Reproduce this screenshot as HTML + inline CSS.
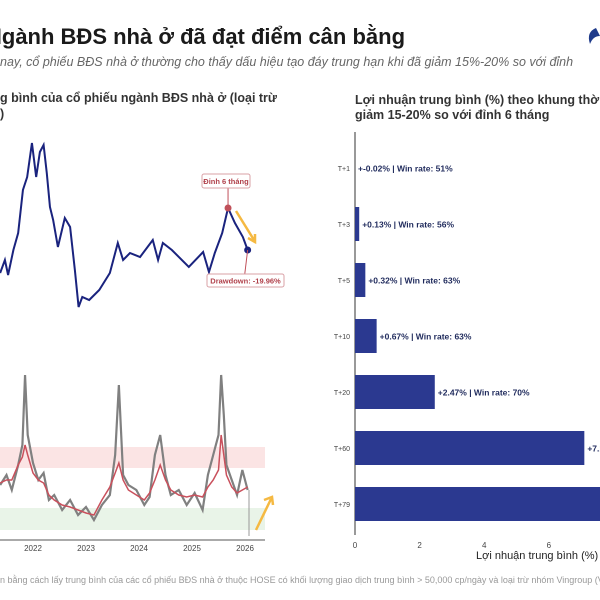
<!DOCTYPE html>
<html><head><meta charset="utf-8"><style>
body{margin:0;background:#fff;width:600px;height:600px;overflow:hidden;font-family:"Liberation Sans",sans-serif}
svg{display:block}
text{font-family:"Liberation Sans",sans-serif}
</style></head><body>
<svg id="c" width="600" height="600" viewBox="0 0 600 600">
<text x="-14" y="44" font-size="22" font-weight="bold" fill="#1a1a1a">Ngành BĐS nhà ở đã đạt điểm cân bằng</text>
<text x="0" y="66" font-size="12.5" font-style="italic" fill="#666">nay, cổ phiếu BĐS nhà ở thường cho thấy dấu hiệu tạo đáy trung hạn khi đã giảm 15%-20% so với đỉnh</text>
<g><path d="M596 28 q-10 4 -6 16 q3 -8 10 -8 z" fill="#1e3a8a"/></g>
<text x="0" y="102" font-size="12.5" font-weight="bold" fill="#333">g bình của cổ phiếu ngành BĐS nhà ở (loại trừ</text>
<text x="0" y="118" font-size="12.5" font-weight="bold" fill="#333">)</text>
<text x="355" y="104" font-size="12.5" font-weight="bold" fill="#333">Lợi nhuận trung bình (%) theo khung thời</text>
<text x="355" y="119" font-size="12.5" font-weight="bold" fill="#333">giảm 15-20% so với đỉnh 6 tháng</text>
<g id="top"></g><g id="low"></g><g id="bars"></g>
<text x="0" y="583" font-size="9" fill="#999">n bằng cách lấy trung bình của các cổ phiếu BĐS nhà ở thuộc HOSE có khối lượng giao dịch trung bình &gt; 50,000 cp/ngày và loại trừ nhóm Vingroup (VIC</text>
</svg>
<script>
const NS="http://www.w3.org/2000/svg";
// price index (year, value)
const priceYears=[2021.38,2021.47,2021.53,2021.63,2021.72,2021.81,2021.89,2021.98,2022.06,2022.13,2022.2,2022.26,2022.32,2022.38,2022.47,2022.6,2022.7,2022.79,2022.86,2022.93,2023.06,2023.25,2023.45,2023.6,2023.7,2023.83,2024.02,2024.26,2024.36,2024.45,2024.62,2024.94,2025.21,2025.32,2025.43,2025.57,2025.68,2025.81,2025.96,2026.05];
const priceVals=[47,60,45,70,87,130,143,177,143,168,175,147,113,100,73,102,93,50,13,23,20,30,47,77,60,67,63,80,60,77,70,53,68,48,67,87,112,97,83,70];
// trading activity: gray raw and red smoothed
const actYears=[2021.38,2021.5,2021.6,2021.72,2021.8,2021.85,2021.9,2022.0,2022.1,2022.2,2022.3,2022.4,2022.55,2022.7,2022.85,2023.0,2023.15,2023.3,2023.45,2023.55,2023.62,2023.7,2023.8,2023.95,2024.1,2024.2,2024.3,2024.4,2024.5,2024.6,2024.75,2024.9,2025.05,2025.2,2025.3,2025.4,2025.5,2025.55,2025.6,2025.65,2025.75,2025.85,2025.95,2026.05];
const grayVals=[50,60,45,70,90,160,100,72,55,62,35,40,25,35,20,28,15,30,40,80,150,60,50,45,30,38,80,100,60,40,45,30,42,25,60,80,100,160,120,70,55,40,65,45];
const redVals=[52,55,55,70,78,90,80,62,55,52,40,35,30,28,25,22,20,35,48,62,72,55,45,40,35,42,55,70,55,45,40,38,40,38,48,55,65,100,80,60,48,42,45,48];
const yearTicks=[2022,2023,2024,2025,2026];
const barCats=["T+1","T+3","T+5","T+10","T+20","T+60","T+79"];
const barVals=[-0.02,0.13,0.32,0.67,2.47,7.1,8.8];
const winRates=[51,56,63,63,70,72,75];
const xTicks=[0,2,4,6];

function mk(tag,attrs,parent){const e=document.createElementNS(NS,tag);for(const k in attrs)e.setAttribute(k,attrs[k]);parent.appendChild(e);return e;}
const X=y=>33+(y-2022)*53;
const Yt=v=>320-v;
const Yl=v=>535-v;
const gTop=document.getElementById('top'),gLow=document.getElementById('low'),gBars=document.getElementById('bars');

let p=mk('path',{d:priceYears.map((y,i)=>(i?'L':'M')+X(y)+' '+Yt(priceVals[i])).join(''),fill:'none',stroke:'#1a237e','stroke-width':2},gTop);


let pk=30+priceVals.slice(30).indexOf(Math.max(...priceVals.slice(30)));
let m=mk('circle',{cx:X(priceYears[pk]),cy:Yt(priceVals[pk]),r:3.5,fill:'#c0505a'},gTop);


mk('line',{x1:X(priceYears[pk]),y1:188,x2:X(priceYears[pk]),y2:Yt(priceVals[pk]),stroke:'#c0505a','stroke-width':1},gTop);
let L=priceVals.length-1;
m=mk('circle',{cx:X(priceYears[L]),cy:Yt(priceVals[L]),r:3.5,fill:'#1a237e'},gTop);


mk('line',{x1:X(priceYears[L]),y1:Yt(priceVals[L]),x2:X(priceYears[L])-3,y2:275,stroke:'#c0505a','stroke-width':1},gTop);
let b=mk('rect',{x:202,y:174,width:48,height:14,rx:2,fill:'#fff',stroke:'#d9a0a6'},gTop);


let t=mk('text',{x:226,y:184,'font-size':7.5,'font-weight':'bold',fill:'#b0404a','text-anchor':'middle'},gTop);t.textContent='Đỉnh 6 tháng';


b=mk('rect',{x:207,y:274,width:77,height:13,rx:2,fill:'#fff',stroke:'#d9a0a6'},gTop);


t=mk('text',{x:245.5,y:283.5,'font-size':7.5,'font-weight':'bold',fill:'#b0404a','text-anchor':'middle'},gTop);t.textContent='Drawdown: -19.96%';


let a=mk('path',{d:'M236 211 L254 240 M248 238 L255 242 L255 234',fill:'none',stroke:'#f5b942','stroke-width':2.5},gTop);



let r=mk('rect',{x:0,y:447,width:265,height:21,fill:'#fbe4e4'},gLow);


r=mk('rect',{x:0,y:508,width:265,height:22,fill:'#e9f4e8'},gLow);


p=mk('path',{d:actYears.map((y,i)=>(i?'L':'M')+X(y)+' '+Yl(grayVals[i])).join(''),fill:'none',stroke:'#808080','stroke-width':2.2},gLow);


p=mk('path',{d:actYears.map((y,i)=>(i?'L':'M')+X(y)+' '+Yl(redVals[i])).join(''),fill:'none',stroke:'#c9505c','stroke-width':1.5},gLow);


mk('line',{x1:249,y1:490,x2:249,y2:536,stroke:'#999','stroke-width':1},gLow);
let ax=mk('line',{x1:0,y1:540,x2:265,y2:540,stroke:'#555','stroke-width':1},gLow);


yearTicks.forEach(y=>{let tt=mk('text',{x:X(y),y:551,'font-size':8,fill:'#444','text-anchor':'middle'},gLow);tt.textContent=y;

});
a=mk('path',{d:'M256 530 L271 499 M264 500 L272 497 L273 505',fill:'none',stroke:'#f5b942','stroke-width':2.5},gLow);



const BX=v=>355+v*32.3, BY=i=>168+i*56;
ax=mk('line',{x1:355,y1:132,x2:355,y2:535,stroke:'#333','stroke-width':1},gBars);


barCats.forEach((c,i)=>{
 let w=Math.max(0,BX(barVals[i])-355);
 let rr=mk('rect',{x:355,y:BY(i)-17,width:w,height:34,fill:'#2b3990'},gBars);
 
 
 let lt=mk('text',{x:350,y:BY(i)+3,'font-size':7,fill:'#444','text-anchor':'end'},gBars);lt.textContent=c;
 
 
 let vt=mk('text',{x:355+w+3,y:BY(i)+3.5,'font-size':8.5,'font-weight':'bold',fill:'#1f2a5c'},gBars);
 vt.textContent='+'+barVals[i].toFixed(2)+'% | Win rate: '+winRates[i]+'%';
 
 
});
xTicks.forEach(v=>{let tt=mk('text',{x:BX(v),y:548,'font-size':8,fill:'#444','text-anchor':'middle'},gBars);tt.textContent=v;

});
t=mk('text',{x:476,y:559,'font-size':11,fill:'#222'},gBars);t.textContent='Lợi nhuận trung bình (%)';


</script>
</body></html>
